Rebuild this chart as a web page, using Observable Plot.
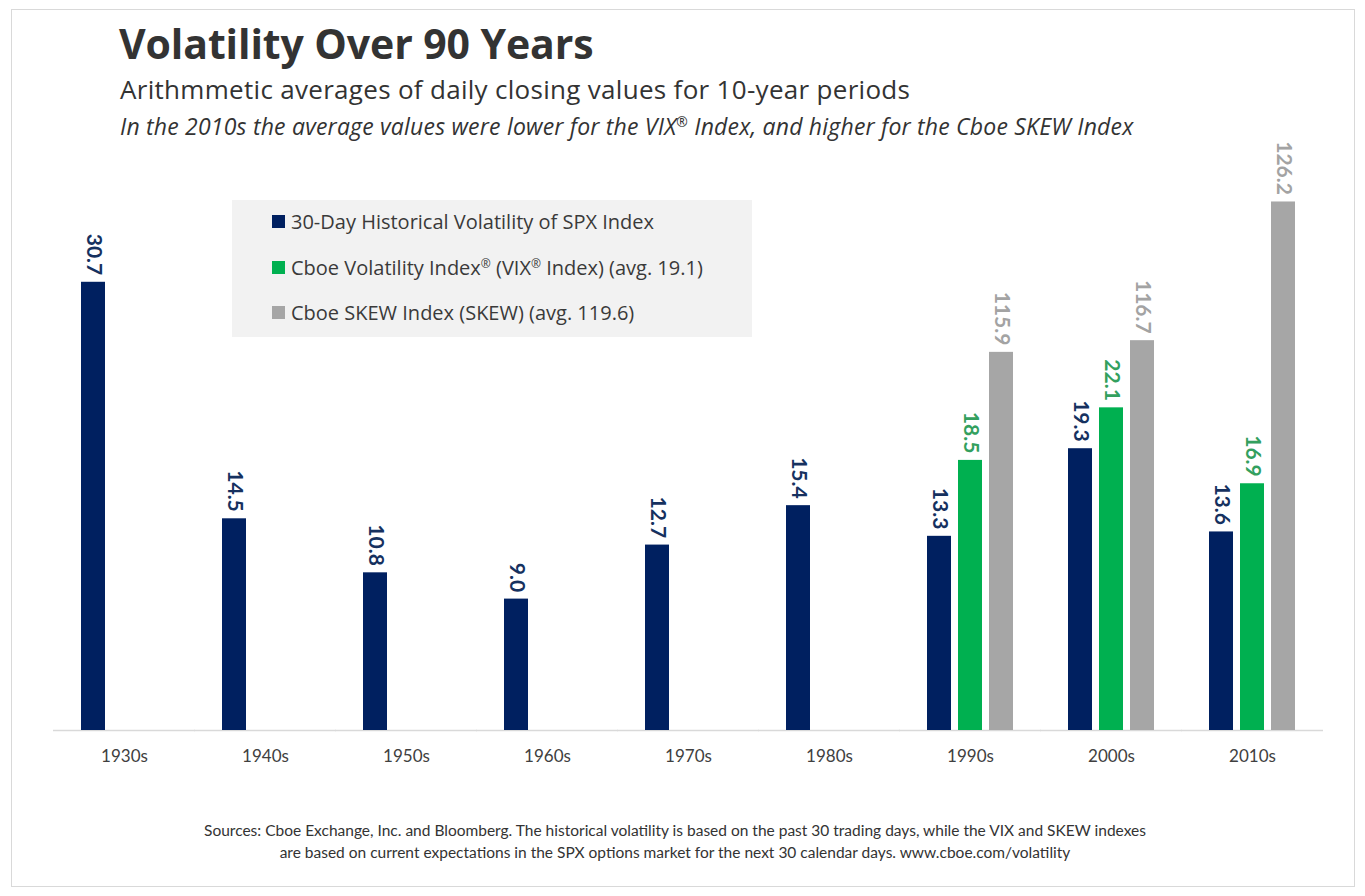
<!DOCTYPE html>
<html><head><meta charset="utf-8">
<script src="https://cdn.jsdelivr.net/npm/d3@7"></script>
<script src="https://cdn.jsdelivr.net/npm/@observablehq/plot@0.6"></script>
<style>
body{margin:0;background:#fff;font-family:Lato,"Noto Sans",sans-serif;}
#page{position:relative;width:1365px;height:896px;overflow:hidden;background:#fff;}
#frame{position:absolute;left:11px;top:9px;width:1344px;height:878px;border:1.5px solid #d9d9d9;box-sizing:border-box;}
#title{position:absolute;left:119px;top:15px;font-family:"Open Sans",sans-serif;font-size:41px;font-weight:700;color:#333;white-space:nowrap;letter-spacing:-0.1px;}
#sub{position:absolute;left:120px;top:71px;font-family:"Open Sans",sans-serif;font-size:26px;color:#333;white-space:nowrap;letter-spacing:0.3px;}
#sub2{position:absolute;left:120px;top:110px;font-family:"Open Sans",sans-serif;font-size:23px;font-style:italic;color:#333;white-space:nowrap;letter-spacing:0.2px;}
#chart{position:absolute;left:0;top:130px;}
#legend{position:absolute;left:232px;top:200px;width:520px;height:137px;background:#f2f2f2;}
.row{position:absolute;left:40px;font-family:"Open Sans",sans-serif;font-size:20px;color:#3a3a3a;white-space:nowrap;display:flex;align-items:center;}
.sw{width:13px;height:13px;margin-right:6px;display:inline-block;}
#foot{position:absolute;left:0;width:1350px;top:819px;text-align:center;font-size:15.5px;line-height:22px;color:#333;}
sup{font-size:0.6em;vertical-align:0.55em;line-height:0;}
</style></head>
<body><div id="page">
<div id="frame"></div>
<div id="title">Volatility Over 90 Years</div>
<div id="sub">Arithmmetic averages of daily closing values for 10-year periods</div>
<div id="sub2">In the 2010s the average values were lower for the VIX<sup>®</sup> Index, and higher for the Cboe SKEW Index</div>
<div id="chart"></div>
<div id="legend"></div>
<div id="foot">Sources: Cboe Exchange, Inc. and Bloomberg. The historical volatility is based on the past 30 trading days, while the VIX and SKEW indexes<br>are based on current expectations in the SPX options market for the next 30 calendar days. www.cboe.com/volatility</div>
</div>
<script>
const decades = ["1930s","1940s","1950s","1960s","1970s","1980s","1990s","2000s","2010s"];
const seriesKeys = ["SPX","VIX","SKEW"];
const seriesNames = ["30-Day Historical Volatility of SPX Index","Cboe Volatility Index<sup>®</sup> (VIX<sup>®</sup> Index) (avg. 19.1)","Cboe SKEW Index (SKEW) (avg. 119.6)"];
const spx  = [30.7, 14.5, 10.8, 9.0, 12.7, 15.4, 13.3, 19.3, 13.6];
const vix  = [null, null, null, null, null, null, 18.5, 22.1, 16.9];
const skew = [null, null, null, null, null, null, 115.9, 116.7, 126.2];
const skewAxisMin = 90; // SKEW bars are drawn on a secondary axis starting at 90

const barColors = {SPX:"#002060", VIX:"#00b050", SKEW:"#a6a6a6"};
const labelColors = {SPX:"#16315f", VIX:"#33a05e", SKEW:"#a3a3a3"};

const rows = decades.flatMap((d, i) => [
  {decade:d, series:"SPX", value:spx[i]},
  {decade:d, series:"VIX", value:vix[i]},
  {decade:d, series:"SKEW", value:skew[i]}
]).filter(r => r.value != null)
  .map(r => ({...r, h: r.series === "SKEW" ? r.value - skewAxisMin : r.value}));

const chart = Plot.plot({
  width: 1365,
  height: 640,
  marginTop: 16,
  marginBottom: 40,
  marginLeft: 50,
  marginRight: 40,
  style: {fontFamily: "Lato, 'Noto Sans', sans-serif", overflow: "visible", background: "transparent"},
  fx: {domain: decades, paddingInner: 1/3, paddingOuter: 0.164, label: null},
  x: {domain: seriesKeys, paddingInner: 0.222, paddingOuter: 0.111, axis: null},
  y: {domain: [0, 40], axis: null},
  marks: [
    Plot.ruleY([0], {stroke: "#d9d9d9", strokeWidth: 1.5, insetLeft: -24, insetRight: -24}),
    Plot.barY(rows, {fx: "decade", x: "series", y: "h", fill: d => barColors[d.series]}),
    Plot.text(rows, {fx: "decade", x: "series", y: "h", text: d => d.value.toFixed(1),
      rotate: 90, textAnchor: "end", lineAnchor: "middle", dy: -7,
      fill: d => labelColors[d.series], fontSize: 21, fontWeight: "bold"}),
    Plot.axisFx({anchor: "bottom", tickSize: 0, tickPadding: 19, fontSize: 17, fill: "#404040", label: null})
  ]
});
document.getElementById("chart").appendChild(chart);

const legend = document.getElementById("legend");
const rowTops = [8, 54, 99];
seriesKeys.forEach((k, i) => {
  const r = document.createElement("div");
  r.className = "row";
  r.style.top = rowTops[i] + "px";
  r.innerHTML = `<span class="sw" style="background:${barColors[k]}"></span><span>${seriesNames[i]}</span>`;
  legend.appendChild(r);
});
</script>
</body></html>
